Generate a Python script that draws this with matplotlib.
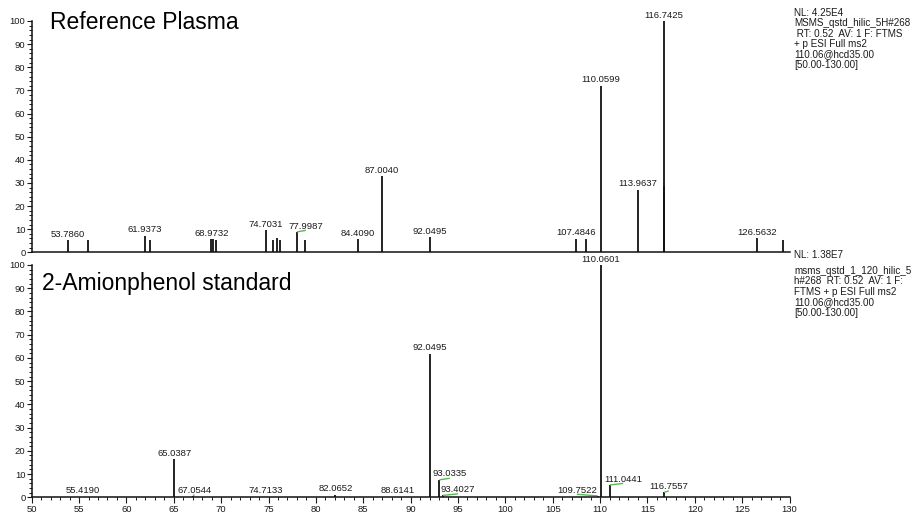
import numpy as np
import matplotlib
matplotlib.use("Agg")
from matplotlib import pyplot as plt
from matplotlib.ticker import MultipleLocator

plt.rcParams['font.family'] = ['Liberation Sans', 'DejaVu Sans']

# reference plasma spectrum (relative abundance)
ref_mz = [53.7860, 55.99, 61.9373, 62.45, 68.9732, 69.13, 69.49, 74.7031, 75.47,
          75.90, 76.25, 77.9987, 78.86, 84.4090, 87.0040, 92.0495, 107.4846, 108.50,
          110.0599, 113.9637, 116.7425, 116.80, 126.5632, 129.30]
ref_int = [5.3, 5.3, 7.2, 5.3, 5.6, 5.6, 5.3, 9.6, 5.3,
           6.0, 5.3, 8.8, 5.3, 5.6, 32.8, 6.5, 5.8, 5.8,
           72.0, 27.0, 100.0, 28.5, 6.2, 5.5]
ref_labelled = [53.7860, 61.9373, 68.9732, 74.7031, 77.9987, 84.4090, 87.0040,
                92.0495, 107.4846, 110.0599, 113.9637, 116.7425, 126.5632]

# 2-aminophenol standard spectrum
std_mz = [55.4190, 65.0387, 67.0544, 74.7133, 82.0652, 88.6141, 92.0495, 93.0335,
          93.4027, 109.7522, 110.0601, 111.0441, 116.7557]
std_int = [0.3, 16.5, 0.5, 0.3, 1.2, 0.3, 61.8, 7.5,
           0.8, 0.6, 100.0, 5.3, 2.1]
std_labelled = std_mz

ref_info = ("NL: 4.25E4\nMSMS_qstd_hilic_5H#268\n RT: 0.52  AV: 1 F: FTMS\n"
            "+ p ESI Full ms2\n110.06@hcd35.00\n[50.00-130.00]")
std_nl = "NL: 1.38E7"
std_info = ("msms_qstd_1_120_hilic_5\nh#268  RT: 0.52  AV: 1 F:\n"
            "FTMS + p ESI Full ms2\n110.06@hcd35.00\n[50.00-130.00]")

# labels pushed sideways (m/z shift), joined to the peak by a green leader
ref_shift = {77.9987: 0.95}
std_shift = {93.0335: 1.1, 93.4027: 1.6, 109.7522: -2.2, 111.0441: 1.4,
             116.7557: 0.5, 67.0544: 0.1}

FS = 6.8
W, H = 914, 518
fig = plt.figure(figsize=(W / 100, H / 100), dpi=100)
fig.set_facecolor('w')

left = 31.7 / W
width = (789.5 - 31.7) / W
ax1 = fig.add_axes([left, (H - 252.3) / H, width, (252.3 - 21.0) / H])
ax2 = fig.add_axes([left, (H - 497.3) / H, width, (497.3 - 265.0) / H])


def draw(ax, mz, inten, labelled, shift):
    ax.vlines(mz, 0, inten, color='#111111', lw=1.3)
    for m, h in zip(mz, inten):
        if m not in labelled:
            continue
        d = shift.get(m, 0.0)
        if d:
            ax.plot([m, m + d], [h, h + 0.7], color='#55bb55', lw=1.0,
                    solid_capstyle='butt')
        ax.annotate(f"{m:.4f}", (m + d, h), xytext=(0, 1),
                    textcoords='offset points', ha='center', va='bottom',
                    fontsize=FS, color='#1a1a1a')
    ax.set_xlim(50, 130)
    ax.set_ylim(0, 100)
    for s in ['top', 'right']:
        ax.spines[s].set_visible(False)
    for s in ['left', 'bottom']:
        ax.spines[s].set_linewidth(1.1)
        ax.spines[s].set_color('#111111')
    ax.yaxis.set_major_locator(MultipleLocator(10))
    ax.yaxis.set_minor_locator(MultipleLocator(2))
    ax.tick_params(axis='y', which='major', length=3.5, width=0.8, pad=1,
                   labelsize=FS, colors='#1a1a1a')
    ax.tick_params(axis='y', which='minor', length=2, width=0.7, colors='#1a1a1a')


draw(ax1, ref_mz, ref_int, ref_labelled, ref_shift)
draw(ax2, std_mz, std_int, std_labelled, std_shift)

ax1.tick_params(axis='x', which='both', bottom=False, labelbottom=False)
ax2.xaxis.set_major_locator(MultipleLocator(5))
ax2.xaxis.set_minor_locator(MultipleLocator(1))
ax2.tick_params(axis='x', which='major', length=4.5, width=0.8, pad=1,
                labelsize=FS, colors='#1a1a1a')
ax2.tick_params(axis='x', which='minor', length=2.5, width=0.7, colors='#1a1a1a')

fig.text(50 / W, (H - 29.3) / H, "Reference Plasma", fontsize=16.5,
         va='baseline', ha='left')
fig.text(41.7 / W, (H - 290) / H, "2-Amionphenol standard", fontsize=16.5,
         va='baseline', ha='left')

fig.text(794 / W, (H - 8) / H, ref_info, fontsize=7.1, va='top', ha='left',
         linespacing=1.05, color='#1a1a1a')
fig.text(794 / W, (H - 255) / H, std_nl, fontsize=7.1, va='center', ha='left',
         color='#1a1a1a')
fig.text(794 / W, (H - 266) / H, std_info, fontsize=7.1, va='top', ha='left',
         linespacing=1.05, color='#1a1a1a')

plt.savefig("out.png", dpi=100)
